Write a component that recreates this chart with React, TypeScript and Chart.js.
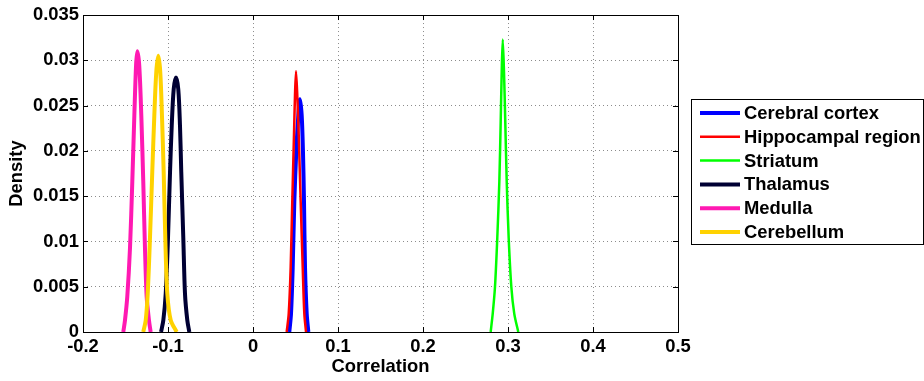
import React, { useEffect, useRef } from "react";
import { Chart, registerables } from "chart.js";

Chart.register(...registerables);

// ---- Data ----
const seriesNames = [
  "Cerebral cortex",
  "Hippocampal region",
  "Striatum",
  "Thalamus",
  "Medulla",
  "Cerebellum",
];
const seriesColors = ["#0000FF", "#FF0000", "#00FF00", "#000033", "#FF19B2", "#FFD200"];
const seriesWidths = [4, 2.5, 2.5, 4, 4, 4];

const cortexX = [0.0427, 0.0447, 0.0467, 0.0486, 0.0509, 0.0533, 0.0553, 0.0573, 0.0588, 0.06, 0.0612, 0.0632, 0.0651];
const cortexY = [0, 0.002, 0.0071, 0.0144, 0.0199, 0.0239, 0.0257, 0.0239, 0.0199, 0.0144, 0.0071, 0.002, 0];

const hippoX = [0.0396, 0.042, 0.0443, 0.0462, 0.0482, 0.0494, 0.0506, 0.0521, 0.0538, 0.0561, 0.0585, 0.0604, 0.0624];
const hippoY = [0, 0.002, 0.0071, 0.0144, 0.0217, 0.0261, 0.0288, 0.0261, 0.0217, 0.0144, 0.0071, 0.002, 0];

const striatumX = [0.2796, 0.282, 0.2847, 0.2874, 0.2898, 0.2914, 0.2926, 0.2938, 0.2953, 0.2968, 0.2985, 0.3008, 0.3039, 0.3074, 0.3121];
const striatumY = [0, 0.002, 0.005, 0.0104, 0.0166, 0.0232, 0.0287, 0.0323, 0.0287, 0.0232, 0.0166, 0.0104, 0.005, 0.002, 0];

const thalamusX = [-0.1082, -0.1055, -0.1027, -0.1, -0.0976, -0.0956, -0.0933, -0.0906, -0.0879, -0.0859, -0.0844, -0.082, -0.08, -0.0773, -0.0749];
const thalamusY = [0, 0.0013, 0.0042, 0.0104, 0.0177, 0.0228, 0.0268, 0.0281, 0.0268, 0.0228, 0.0177, 0.0104, 0.0042, 0.0013, 0];

const medullaX = [-0.1526, -0.1506, -0.1479, -0.1447, -0.142, -0.1396, -0.1376, -0.1361, -0.1338, -0.1314, -0.1291, -0.1271, -0.1251, -0.1224, -0.1204];
const medullaY = [0, 0.0013, 0.0039, 0.0093, 0.0166, 0.0239, 0.0294, 0.031, 0.0294, 0.0239, 0.0166, 0.0093, 0.0039, 0.0013, 0];

const cerebellumX = [-0.1291, -0.1262, -0.1239, -0.1212, -0.1185, -0.1161, -0.1138, -0.1114, -0.1091, -0.1071, -0.1051, -0.1032, -0.1008, -0.0968, -0.0898];
const cerebellumY = [0, 0.0013, 0.0042, 0.0104, 0.0177, 0.0239, 0.0287, 0.0305, 0.0287, 0.0239, 0.0177, 0.0104, 0.0042, 0.0013, 0];

const seriesX = [cortexX, hippoX, striatumX, thalamusX, medullaX, cerebellumX];
const seriesY = [cortexY, hippoY, striatumY, thalamusY, medullaY, cerebellumY];

const xTicks = [-0.2, -0.1, 0, 0.1, 0.2, 0.3, 0.4, 0.5];
const xTickLabels = ["-0.2", "-0.1", "0", "0.1", "0.2", "0.3", "0.4", "0.5"];
const yTicks = [0, 0.005, 0.01, 0.015, 0.02, 0.025, 0.03, 0.035];
const yTickLabels = ["0", "0.005", "0.01", "0.015", "0.02", "0.025", "0.03", "0.035"];

const FONT_FAMILY = '"Liberation Sans", Arial, Helvetica, sans-serif';
const FONT_SIZE = 18.4;

const framePlugin = {
  id: "matlabFrame",
  afterDraw(chart: any) {
    const { ctx, chartArea: a, scales } = chart;
    ctx.save();
    ctx.strokeStyle = "#000";
    ctx.lineWidth = 1;
    // inward tick marks
    ctx.beginPath();
    xTicks.forEach((v) => {
      const px = Math.round(scales.x.getPixelForValue(v)) + 0.5;
      ctx.moveTo(px, a.bottom);
      ctx.lineTo(px, a.bottom - 5);
      ctx.moveTo(px, a.top);
      ctx.lineTo(px, a.top + 5);
    });
    yTicks.forEach((v) => {
      const py = Math.round(scales.y.getPixelForValue(v)) + 0.5;
      ctx.moveTo(a.left, py);
      ctx.lineTo(a.left + 5, py);
      ctx.moveTo(a.right, py);
      ctx.lineTo(a.right - 5, py);
    });
    ctx.stroke();
    // box
    ctx.strokeRect(Math.round(a.left) + 0.5, Math.round(a.top) + 0.5, Math.round(a.right - a.left), Math.round(a.bottom - a.top));

    // legend
    const lx = 691.5, ly = 99.5, lw = 232, lh = 145;
    ctx.fillStyle = "#fff";
    ctx.fillRect(lx, ly, lw, lh);
    ctx.strokeStyle = "#000";
    ctx.strokeRect(lx, ly, lw, lh);
    ctx.font = `bold ${FONT_SIZE}px ${FONT_FAMILY}`;
    ctx.textBaseline = "middle";
    ctx.textAlign = "left";
    chart.data.datasets.forEach((ds: any, i: number) => {
      const y = 113 + i * 23.8;
      ctx.beginPath();
      ctx.strokeStyle = ds.borderColor;
      ctx.lineWidth = ds.borderWidth;
      ctx.moveTo(700, y);
      ctx.lineTo(740, y);
      ctx.stroke();
      ctx.fillStyle = "#000";
      ctx.fillText(ds.label, 744, y + 1);
    });
    ctx.restore();
  },
};

export default function App() {
  const canvasRef = useRef<HTMLCanvasElement | null>(null);

  useEffect(() => {
    if (!canvasRef.current) return;
    const n = seriesNames.length;
    const datasets = seriesNames.map((name, i) => ({
      label: name,
      data: seriesX[i].map((x, j) => ({ x, y: seriesY[i][j] })),
      borderColor: seriesColors[i],
      backgroundColor: seriesColors[i],
      borderWidth: seriesWidths[i],
      pointRadius: 0,
      showLine: true,
      tension: 0.3,
      fill: false,
      order: n - i,
    }));

    const font = { family: FONT_FAMILY, size: FONT_SIZE, weight: "bold" };

    const chart = new Chart(canvasRef.current, {
      type: "scatter",
      data: { datasets },
      options: {
        animation: false,
        responsive: false,
        devicePixelRatio: 1,
        layout: { padding: { top: 12, right: 246, bottom: 0, left: 0 } },
        plugins: { legend: { display: false }, tooltip: { enabled: false } },
        scales: {
          x: {
            type: "linear",
            position: "bottom",
            min: -0.2,
            max: 0.5,
            afterBuildTicks: (s: any) => {
              s.ticks = xTicks.map((v) => ({ value: v }));
            },
            afterFit: (s: any) => {
              s.height = 49;
            },
            ticks: {
              autoSkip: false,
              maxRotation: 0,
              padding: 4,
              color: "#000",
              font,
              callback: (_v: any, i: number) => xTickLabels[i],
            },
            grid: { color: "#8c8c8c", lineWidth: 1, drawTicks: false },
            border: { display: false, dash: [1, 3] },
            title: {
              display: true,
              text: "Correlation",
              color: "#000",
              font,
              padding: { top: 0, bottom: 3 },
            },
          },
          y: {
            type: "linear",
            min: 0,
            max: 0.035,
            afterBuildTicks: (s: any) => {
              s.ticks = yTicks.map((v) => ({ value: v }));
            },
            afterFit: (s: any) => {
              s.width = 83;
            },
            ticks: {
              autoSkip: false,
              padding: 4,
              color: "#000",
              font,
              callback: (_v: any, i: number) => yTickLabels[i],
            },
            grid: { color: "#8c8c8c", lineWidth: 1, drawTicks: false },
            border: { display: false, dash: [1, 3] },
            title: {
              display: true,
              text: "Density",
              color: "#000",
              font,
              padding: { top: 6, bottom: 0 },
            },
          },
        },
      },
      plugins: [framePlugin],
    } as any);

    return () => chart.destroy();
  }, []);

  return (
    <div style={{ position: "fixed", left: 0, top: 0, width: 924, height: 381, background: "#fff" }}>
      <canvas ref={canvasRef} width={924} height={381} style={{ display: "block" }} />
    </div>
  );
}
